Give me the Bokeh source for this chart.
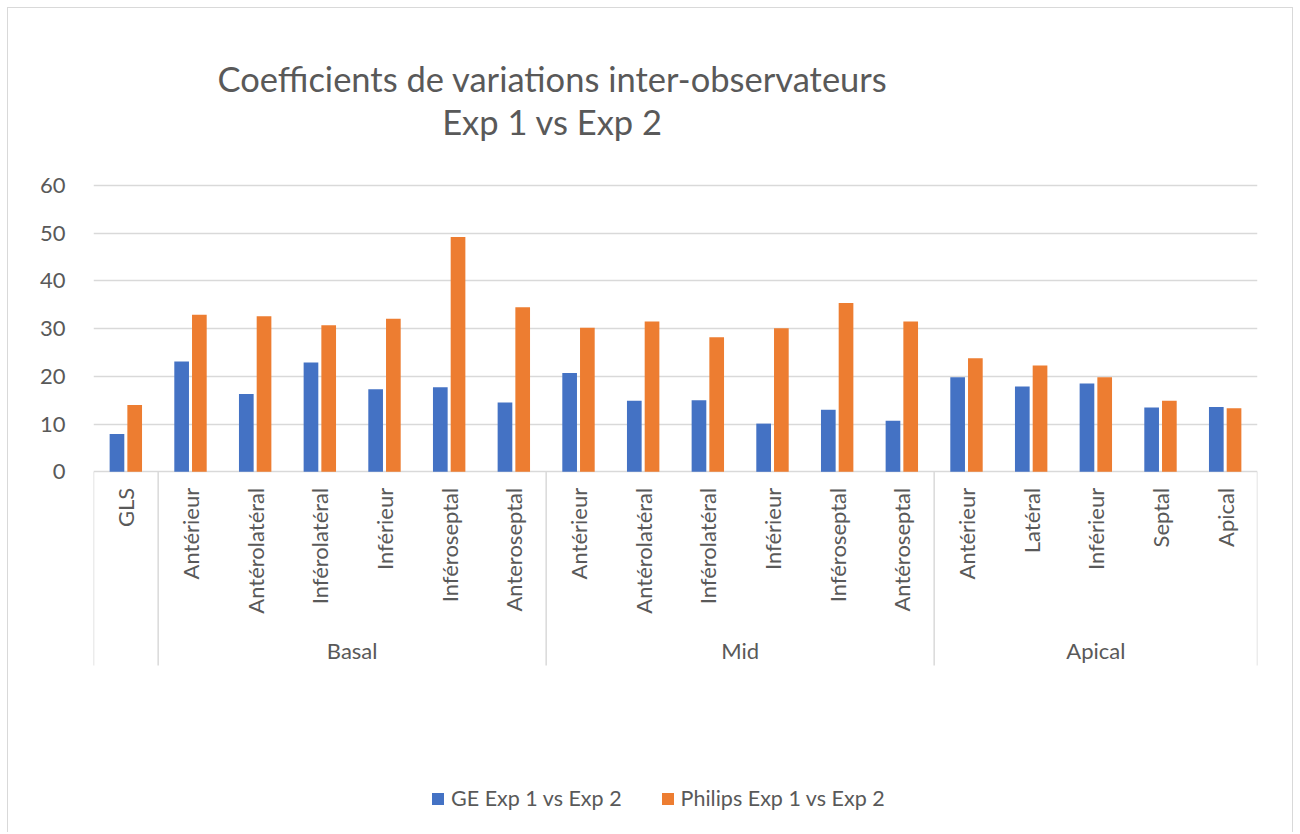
import math
from bokeh.plotting import figure
from bokeh.models import FactorRange, Range1d, FixedTicker, Label, ColumnDataSource
from bokeh.transform import dodge
from bokeh.core.properties import value
from bokeh.embed import file_html
from bokeh.resources import INLINE

# ---------------- data ----------------
levels = ["", "Basal", "Basal", "Basal", "Basal", "Basal", "Basal",
          "Mid", "Mid", "Mid", "Mid", "Mid", "Mid",
          "Apical", "Apical", "Apical", "Apical", "Apical"]
segments = ["GLS", "Antérieur", "Antérolatéral", "Inférolatéral", "Inférieur", "Inféroseptal", "Anteroseptal",
            "Antérieur", "Antérolatéral", "Inférolatéral", "Inférieur", "Inféroseptal", "Antéroseptal",
            "Antérieur", "Latéral", "Inférieur", "Septal", "Apical"]
ge_values = [7.9, 23.1, 16.3, 22.9, 17.3, 17.7, 14.5,
             20.7, 14.9, 15.0, 10.1, 13.0, 10.7,
             19.8, 17.9, 18.5, 13.5, 13.6]
philips_values = [14.0, 32.9, 32.6, 30.7, 32.1, 49.2, 34.5,
                  30.2, 31.5, 28.2, 30.1, 35.4, 31.5,
                  23.8, 22.3, 19.8, 14.9, 13.3]
series_names = ["GE Exp 1 vs Exp 2", "Philips Exp 1 vs Exp 2"]
y_ticks = [0, 10, 20, 30, 40, 50, 60]
title_lines = ["Coefficients de variations inter-observateurs", "Exp 1 vs Exp 2"]

# ---------------- styling / layout ----------------
BLUE = "#4472C4"
ORANGE = "#ED7D31"
TXT = "#595959"
GRID = "#d9d9d9"
FONT = "Lato"

W, H = 1286, 825
FRAME_TOP, FRAME_BOTTOM = 8, 8 + H          # page coords of frame (no top/bottom borders)
TOP60, ZERO = 185.0, 471.3                  # page y of 60 and 0 gridlines
scale = (ZERO - TOP60) / 60.0
y_end = 60 + (TOP60 - FRAME_TOP) / scale
y_start = -(FRAME_BOTTOM - ZERO) / scale

factors = list(zip(levels, segments))
src = ColumnDataSource(dict(x=factors, ge=ge_values, philips=philips_values))

x_range = FactorRange(*factors, factor_padding=0, group_padding=0, range_padding=0)

p = figure(width=W, height=H, x_range=x_range, y_range=Range1d(y_start, y_end),
           output_backend="svg", toolbar_location=None, x_axis_location=None,
           min_border_left=85, min_border_right=37, min_border_top=0, min_border_bottom=0,
           outline_line_color=None, background_fill_color="white", border_fill_color="white")
p.title.visible = False
p.styles = {"border-left": "1px solid #d9d9d9", "border-top": "1px solid #d9d9d9",
            "border-right": "1px solid #d9d9d9", "margin": "7px 0 0 7px"}

bw = 0.227
off = 0.137
p.vbar(x=dodge("x", -off, range=x_range), top="ge", width=bw, source=src,
       fill_color=BLUE, line_color=None, legend_label=series_names[0])
p.vbar(x=dodge("x", off, range=x_range), top="philips", width=bw, source=src,
       fill_color=ORANGE, line_color=None, legend_label=series_names[1])

# y axis / grid
p.yaxis.ticker = FixedTicker(ticks=y_ticks)
p.ygrid.ticker = FixedTicker(ticks=y_ticks)
p.ygrid.grid_line_color = GRID
p.ygrid.grid_line_width = 1.5
p.xgrid.visible = False
p.yaxis.axis_line_color = None
p.yaxis.major_tick_line_color = None
p.yaxis.minor_tick_line_color = None
p.yaxis.major_label_standoff = 22
p.yaxis.major_label_text_font = FONT
p.yaxis.major_label_text_font_size = "22px"
p.yaxis.major_label_text_color = TXT

# category axis drawn Excel-style (multi-level with separators)
n = len(factors)
centers = [i + 0.5 for i in range(n)]
bounds = [0]
for i in range(1, n):
    if levels[i] != levels[i - 1]:
        bounds.append(i)
bounds.append(n)
label_drop = 16 / scale
sep_bottom = -(665 - ZERO) / scale
p.segment(x0=bounds, y0=[0] * len(bounds), x1=bounds, y1=[sep_bottom] * len(bounds),
          line_color=GRID, line_width=1.5)
p.text(x=centers, y=[-label_drop] * n, text=segments, angle=math.pi / 2,
       text_align="right", text_baseline="middle", text_font=value(FONT),
       text_font_size="22px", text_color=TXT)
grp_x, grp_t = [], []
for a, b in zip(bounds[:-1], bounds[1:]):
    if levels[a]:
        grp_x.append((a + b) / 2)
        grp_t.append(levels[a])
grp_y = -(650 - ZERO) / scale
p.text(x=grp_x, y=[grp_y] * len(grp_x), text=grp_t, text_align="center",
       text_baseline="middle", text_font=value(FONT), text_font_size="22px", text_color=TXT)

# title (two centred lines)
for line, base in zip(title_lines, [78, 121]):
    p.add_layout(Label(x=552 - 93, y=FRAME_BOTTOM - base, x_units="screen", y_units="screen",
                       text=line, text_align="center", text_baseline="alphabetic",
                       text_font=FONT, text_font_size="34.5px", text_color=TXT))

# legend
lg = p.legend[0]
lg.orientation = "horizontal"
lg.location = (432 - 93 - 2, FRAME_BOTTOM - 811)
lg.border_line_color = None
lg.background_fill_alpha = 0
lg.padding = 0
lg.margin = 0
lg.spacing = 38
lg.glyph_width = 15
lg.glyph_height = 15
lg.label_standoff = 6
lg.label_text_font = FONT
lg.label_text_font_size = "21.5px"
lg.label_text_color = TXT

open("out.html", "w").write(file_html(p, INLINE))
